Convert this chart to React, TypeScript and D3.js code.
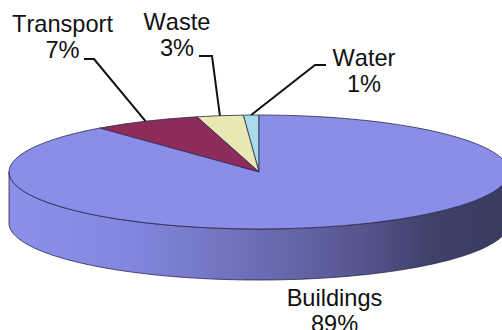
import React from "react";
import * as d3 from "d3";

// Carbon footprint shares, listed counter-clockwise from twelve o'clock.
const categories = ["Water", "Waste", "Transport", "Buildings"];
const shares = [1, 3, 7, 89];
const sliceColors = ["#a9dcea", "#e9e7b3", "#8f2b5a", "#8b8ee8"];

const WIDTH = 502;
const HEIGHT = 330;
const CX = 259;
const CY = 172;
const RX = 250;
const RY = 57;
const DEPTH = 51;
const FONT = "'Liberation Sans', Arial, sans-serif";

// Label placement: text centre, first baseline, and the elbow of the leader.
const labelLayout = [
  { x: 364, y: 66, leader: [[326, 65], [315, 65]] },
  { x: 177, y: 30, leader: [[199, 56], [212, 56]] },
  { x: 62.5, y: 32, leader: [[84, 59], [94, 59]] },
  { x: 334.5, y: 306, leader: null },
];

const pie = d3
  .pie<number>()
  .sort(null)
  .startAngle(0)
  .endAngle(-2 * Math.PI);
const arcs = pie(shares);
const arcPath = d3.arc<d3.PieArcDatum<number>>().innerRadius(0).outerRadius(RX);

// A point on the rim of the tilted disc for a given pie angle.
const rim = (angle: number): [number, number] => [
  CX + RX * Math.sin(angle),
  CY - RY * Math.cos(angle),
];

// Front half of the rim, left to right, dropped by the disc's thickness.
const frontEdge = d3.range(-90, 90.5, 1).map((deg) => {
  const t = (deg * Math.PI) / 180;
  return [CX + RX * Math.sin(t), CY + RY * Math.cos(t)] as [number, number];
});
const line = d3.line();
const wallPath =
  line(frontEdge)! +
  "L" +
  line(frontEdge.slice().reverse().map(([x, y]) => [x, y + DEPTH] as [number, number]))!.slice(1) +
  "Z";

const leaderLine = d3.line();

export default function App() {
  return (
    <svg
      width={WIDTH}
      height={HEIGHT}
      viewBox={`0 0 ${WIDTH} ${HEIGHT}`}
      style={{ position: "absolute", left: 0, top: 0, background: "#fff" }}
      fontFamily={FONT}
    >
      <defs>
        <linearGradient id="wall" gradientUnits="userSpaceOnUse" x1={CX - RX} x2={CX + RX} y1={0} y2={0}>
          <stop offset="0" stopColor="#8d90ea" />
          <stop offset="0.25" stopColor="#8385de" />
          <stop offset="0.5" stopColor="#6b6db4" />
          <stop offset="0.7" stopColor="#55568f" />
          <stop offset="0.85" stopColor="#3f4068" />
          <stop offset="1" stopColor="#3a3b60" />
        </linearGradient>
      </defs>

      <path d={wallPath} fill="url(#wall)" stroke="#23244a" strokeWidth={0.8} />

      <g transform={`translate(${CX},${CY}) scale(1,${RY / RX})`}>
        {arcs.map((a, i) => (
          <path
            key={categories[i]}
            d={arcPath(a)!}
            fill={sliceColors[i]}
            stroke="#2a2a48"
            strokeWidth={0.8}
            vectorEffect="non-scaling-stroke"
          />
        ))}
      </g>

      {arcs.map((a, i) => {
        const layout = labelLayout[i];
        if (!layout.leader) return null;
        const mid = (a.startAngle + a.endAngle) / 2;
        return (
          <path
            key={categories[i]}
            d={leaderLine([...(layout.leader as [number, number][]), rim(mid)])!}
            fill="none"
            stroke="#111"
            strokeWidth={2}
          />
        );
      })}

      {categories.map((name, i) => (
        <text
          key={name}
          textAnchor="middle"
          fontSize={23.6}
          fill="#111"
          style={{ fontKerning: "none" }}
        >
          <tspan x={labelLayout[i].x} y={labelLayout[i].y}>
            {name}
          </tspan>
          <tspan x={labelLayout[i].x} dy={25.5}>
            {shares[i]}%
          </tspan>
        </text>
      ))}
    </svg>
  );
}
